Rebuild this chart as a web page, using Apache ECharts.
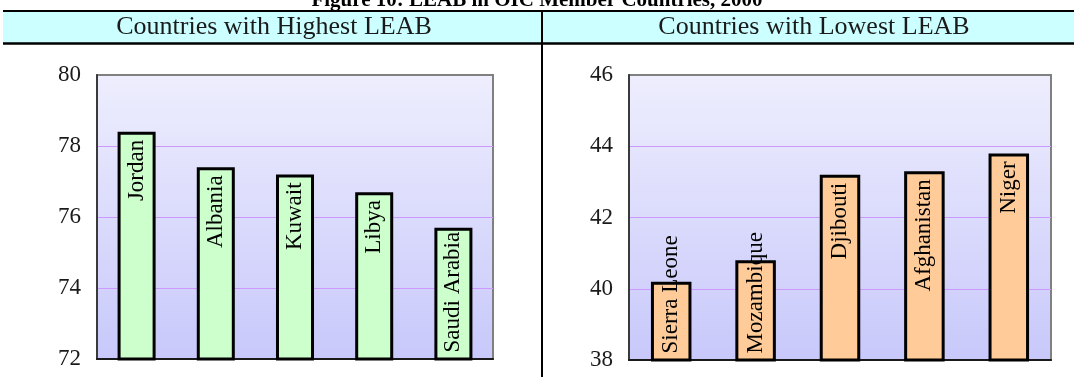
<!DOCTYPE html>
<html>
<head>
<meta charset="utf-8">
<script src="https://cdn.jsdelivr.net/npm/echarts@6/dist/echarts.min.js"></script>
<style>
  html, body { margin: 0; padding: 0; background: #ffffff; }
  #chart { width: 1074px; height: 377px; }
</style>
</head>
<body>
<div id="chart"></div>
<script>
// Life expectancy at birth (years), 2000
const highCountries = ['Jordan', 'Albania', 'Kuwait', 'Libya', 'Saudi Arabia'];
const highLeab = [78.4, 77.4, 77.2, 76.7, 75.7];
const highTicks = [72, 74, 76, 78, 80];

const lowCountries = ['Sierra Leone', 'Mozambique', 'Djibouti', 'Afghanistan', 'Niger'];
const lowLeab = [40.2, 40.8, 43.2, 43.3, 43.8];
const lowTicks = [38, 40, 42, 44, 46];

const titleText = 'Figure 10: LEAB in OIC Member Countries, 2000';
const panelTitles = ['Countries with Highest LEAB', 'Countries with Lowest LEAB'];

const SERIF = '"Liberation Serif", "DejaVu Serif", serif';
const TICK_SIZE = 23;
const LABEL_SIZE = 23;
const LABEL_PAD = 8;

const chart = echarts.init(document.getElementById('chart'), null, { renderer: 'canvas' });

const plotBg = new echarts.graphic.LinearGradient(0, 0, 0, 1, [
  { offset: 0, color: '#eeeefe' },
  { offset: 1, color: '#c8c8fb' }
]);

function yAxisFor(ticks, gridIndex) {
  return {
    type: 'value',
    gridIndex: gridIndex,
    min: ticks[0],
    max: ticks[ticks.length - 1],
    interval: ticks[1] - ticks[0],
    axisLine: { show: true, lineStyle: { color: '#3a3a3a', width: 2 } },
    axisTick: { show: false },
    axisLabel: {
      margin: 16,
      fontFamily: SERIF,
      fontSize: TICK_SIZE,
      color: '#1a1a1a'
    },
    splitLine: {
      show: true,
      showMinLine: false,
      showMaxLine: false,
      lineStyle: { color: '#cc99ff', width: 1 }
    }
  };
}

function xAxisFor(categories, gridIndex) {
  return {
    type: 'category',
    gridIndex: gridIndex,
    data: categories,
    axisLine: { show: true, lineStyle: { color: '#1a1a1a', width: 2 } },
    axisTick: { show: false },
    axisLabel: { show: false }
  };
}

function barSeries(values, idx, fill) {
  return {
    type: 'bar',
    xAxisIndex: idx,
    yAxisIndex: idx,
    barWidth: '48%',
    data: values.slice(),
    itemStyle: { color: fill, borderColor: '#000000', borderWidth: 3 },
    label: {
      show: true,
      formatter: '{b}',
      position: 'insideTop',
      distance: LABEL_PAD,
      rotate: 90,
      align: 'right',
      verticalAlign: 'middle',
      fontFamily: SERIF,
      fontSize: LABEL_SIZE,
      color: '#000000'
    },
    silent: true,
    animation: false
  };
}

const gridBox = {
  show: true,
  backgroundColor: plotBg,
  borderColor: '#808080',
  borderWidth: 2
};

chart.setOption({
  animation: false,
  grid: [
    Object.assign({ left: 97, top: 75, width: 396, height: 284 }, gridBox),
    Object.assign({ left: 629, top: 75, width: 422, height: 285 }, gridBox)
  ],
  xAxis: [xAxisFor(highCountries, 0), xAxisFor(lowCountries, 1)],
  yAxis: [yAxisFor(highTicks, 0), yAxisFor(lowTicks, 1)],
  series: [
    barSeries(highLeab, 0, '#ccffcc'),
    barSeries(lowLeab, 1, '#ffcc99')
  ],
  graphic: [
    // header band
    { type: 'rect', shape: { x: 3, y: 11, width: 1071, height: 32 }, style: { fill: '#ccffff' }, z: 0 },
    { type: 'line', shape: { x1: 3, y1: 11, x2: 1074, y2: 11 }, style: { stroke: '#000', lineWidth: 2 }, z: 1 },
    { type: 'line', shape: { x1: 3, y1: 43.5, x2: 1074, y2: 43.5 }, style: { stroke: '#000', lineWidth: 2.5 }, z: 1 },
    { type: 'line', shape: { x1: 542, y1: 10, x2: 542, y2: 377 }, style: { stroke: '#000', lineWidth: 2 }, z: 1 },
    {
      type: 'text', x: 537, y: 1, z: 2,
      style: {
        text: titleText, fill: '#000',
        font: 'bold 21px ' + SERIF,
        textAlign: 'center', textVerticalAlign: 'middle'
      }
    },
    {
      type: 'text', x: 274, y: 27, z: 2,
      style: {
        text: panelTitles[0], fill: '#1a1a1a',
        font: '26px ' + SERIF,
        textAlign: 'center', textVerticalAlign: 'middle'
      }
    },
    {
      type: 'text', x: 814, y: 27, z: 2,
      style: {
        text: panelTitles[1], fill: '#1a1a1a',
        font: '26px ' + SERIF,
        textAlign: 'center', textVerticalAlign: 'middle'
      }
    }
  ]
});

// Names too long for their bar sit against the bar's foot instead of its top.
const measureCtx = document.createElement('canvas').getContext('2d');
measureCtx.font = LABEL_SIZE + 'px ' + SERIF;

function placedData(values, names, ticks, seriesIndex) {
  return values.map(function (v, i) {
    const top = chart.convertToPixel({ seriesIndex: seriesIndex }, [i, v]);
    const foot = chart.convertToPixel({ seriesIndex: seriesIndex }, [i, ticks[0]]);
    const barHeight = foot[1] - top[1];
    const textWidth = measureCtx.measureText(names[i]).width;
    if (textWidth + 2 * LABEL_PAD > barHeight) {
      return { value: v, label: { position: 'insideBottom', align: 'left' } };
    }
    return v;
  });
}

chart.setOption({
  series: [
    { data: placedData(highLeab, highCountries, highTicks, 0) },
    { data: placedData(lowLeab, lowCountries, lowTicks, 1) }
  ]
});
</script>
</body>
</html>
